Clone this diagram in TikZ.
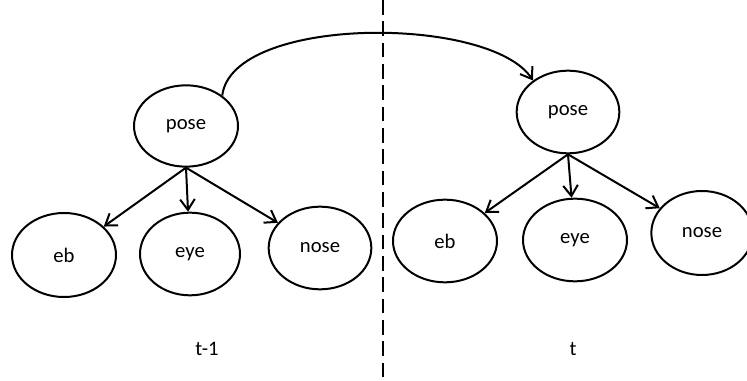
\documentclass[tikz,border=0pt]{standalone}
\usepackage{fontspec}
\setmainfont{Carlito}
\usetikzlibrary{shapes.geometric,arrows.meta}
\tikzset{
  bub/.style={ellipse, draw, line width=1.5pt, inner sep=0pt,
    font=\fontsize{15.5}{18}\selectfont},
  lbl/.style={font=\fontsize{15.5}{18}\selectfont, inner sep=0pt},
  arr/.style={line width=1.5pt, -{Straight Barb[length=8pt,width=11pt,line width=1.5pt]}},
  sep/.style={line width=1.6pt, dash pattern=on 11pt off 5pt}
}
\begin{document}
\begin{tikzpicture}[x=0.75pt,y=-0.75pt]
\useasboundingbox (0,0) rectangle (747,381);
% left slice
\node[bub, minimum width=78pt, minimum height=61pt] (lp) at (186,126) {pose};
\node[bub, minimum width=78pt, minimum height=63pt] (leb) at (64,255) {eb};
\node[bub, minimum width=75pt, minimum height=62pt] (leye) at (190,254) {eye};
\node[bub, minimum width=77pt, minimum height=62pt] (lnose) at (320,248) {nose};
% right slice
\node[bub, minimum width=77pt, minimum height=62pt] (rp) at (568,112) {pose};
\node[bub, minimum width=78pt, minimum height=62pt] (reb) at (445,241) {eb};
\node[bub, minimum width=78pt, minimum height=62pt] (reye) at (575,240) {eye};
\node[bub, minimum width=76pt, minimum height=63pt] (rnose) at (702,233) {nose};
% labels
\node[lbl] (tm1) at (207,349) {t-1};
\node[lbl] (tt) at (573,349) {t};
% separator
\coordinate (sa) at (383,0);
\coordinate (sb) at (383,381);
\draw[sep] (sa) -- (sb);
% arrows
\draw[arr] (lp.south) -- (leb);
\draw[arr] (lp.south) -- (leye);
\draw[arr] (lp.south) -- (lnose);
\draw[arr] (rp.south) -- (reb);
\draw[arr] (rp.south) -- (reye);
\draw[arr] (rp.south) -- (rnose);
\draw[arr] (lp.40) .. controls (232,15) and (490,15) .. (rp.138);
\end{tikzpicture}
\end{document}
